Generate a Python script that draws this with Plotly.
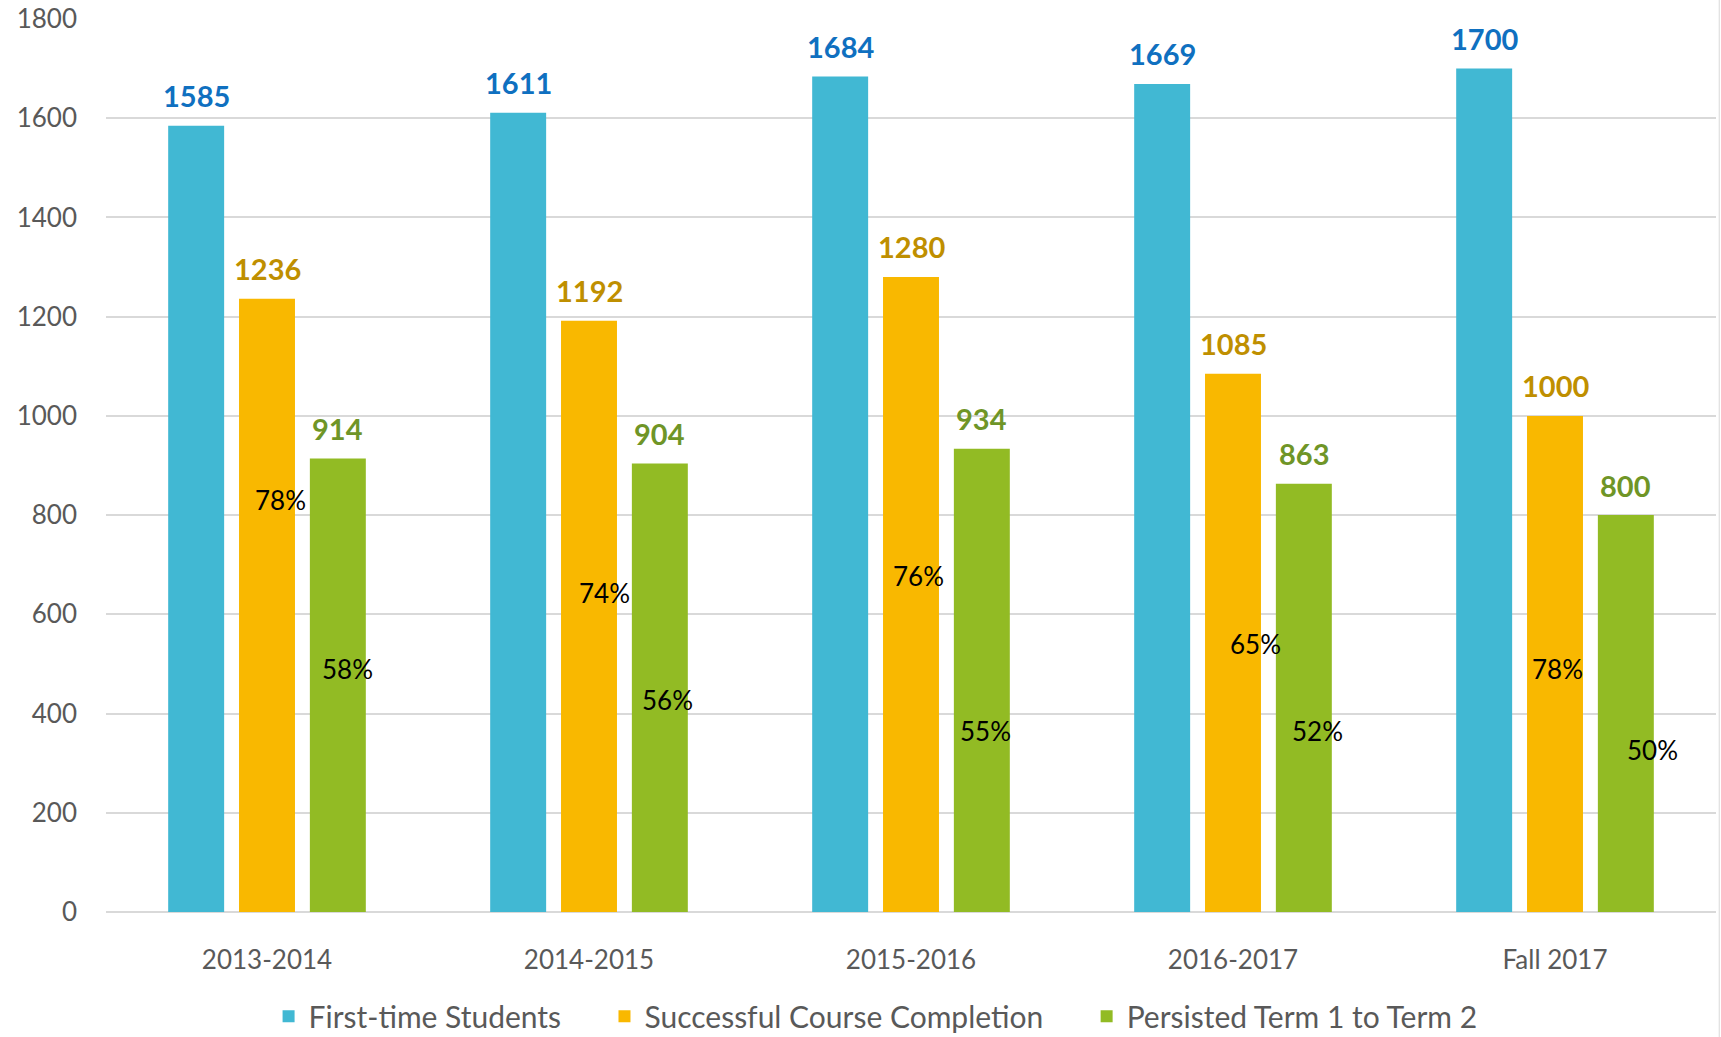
import plotly.graph_objects as go

# Cohort categories and counts
years = ["2013-2014", "2014-2015", "2015-2016", "2016-2017", "Fall 2017"]
first_time = [1585, 1611, 1684, 1669, 1700]
completion = [1236, 1192, 1280, 1085, 1000]
persisted = [914, 904, 934, 863, 800]

# Rate labels shown inside the bars
completion_pct = ["78%", "74%", "76%", "65%", "78%"]
persisted_pct = ["58%", "56%", "55%", "52%", "50%"]

# Placement of the rate labels (data-unit height, pixel shift from group centre)
completion_pct_y = [831, 643, 677, 540, 489]
completion_pct_dx = [13, 15, 7, 22, 2]
persisted_pct_y = [489, 427, 365, 365, 327]
persisted_pct_dx = [80, 78, 74, 84, 97]

FONT = "Lato"
AXIS_GREY = "#595959"
BARGAP = 0.34
GROUPGAP = 0.21
PLOT_W = 1721 - 106 - 5

series = [
    ("First-time Students", first_time, "#41B8D3", "#0F70C0"),
    ("Successful Course Completion", completion, "#F9B800", "#BF8F00"),
    ("Persisted Term 1 to Term 2", persisted, "#92BB24", "#6F9527"),
]

# pixel distance between neighbouring bar centres inside a group
slot_px = PLOT_W / len(years) * (1 - BARGAP) / len(series)

fig = go.Figure()
pad = "\u00a0" * 5
for k, (name, vals, bar_col, txt_col) in enumerate(series):
    fig.add_trace(go.Bar(
        name=name + (pad if k < len(series) - 1 else ""),
        x=years, y=vals,
        marker=dict(color=bar_col, line=dict(width=0)),
    ))
    # value labels above each bar
    for yr, v in zip(years, vals):
        fig.add_annotation(x=yr, y=v, text=str(v), showarrow=False,
                           xshift=(k - 1) * slot_px, yshift=30, yanchor="middle",
                           font=dict(family=FONT, size=29, color=txt_col, weight="bold"))

for i, yr in enumerate(years):
    fig.add_annotation(x=yr, y=completion_pct_y[i], text=completion_pct[i],
                       xshift=completion_pct_dx[i], showarrow=False,
                       font=dict(family=FONT, size=26, color="#000000"))
    fig.add_annotation(x=yr, y=persisted_pct_y[i], text=persisted_pct[i],
                       xshift=persisted_pct_dx[i], showarrow=False,
                       font=dict(family=FONT, size=26, color="#000000"))

# thin chart border on the right edge
fig.add_shape(type="line", xref="paper", yref="paper", x0=1.002, x1=1.002,
              y0=-0.14, y1=1.03, line=dict(color="#D9D9D9", width=1))

fig.update_layout(
    width=1721, height=1037,
    margin=dict(l=106, r=5, t=19, b=125, autoexpand=False),
    paper_bgcolor="white", plot_bgcolor="white",
    barmode="group", bargap=BARGAP, bargroupgap=GROUPGAP,
    showlegend=True,
    legend=dict(orientation="h", x=0.478, xanchor="center",
                yref="container", y=0.02, yanchor="middle",
                font=dict(family=FONT, size=30, color=AXIS_GREY),
                itemsizing="constant", traceorder="normal"),
    xaxis=dict(showgrid=False, showline=False, ticks="",
               tickfont=dict(family=FONT, size=26, color=AXIS_GREY),
               ticklabelstandoff=30),
    yaxis=dict(range=[0, 1800], dtick=200, showgrid=True, gridcolor="#D9D9D9",
               gridwidth=2, zeroline=True, zerolinecolor="#D9D9D9", zerolinewidth=2,
               showline=False, ticks="", ticklabelstandoff=28,
               tickfont=dict(family=FONT, size=26, color=AXIS_GREY)),
)

fig.write_html("out.html")
